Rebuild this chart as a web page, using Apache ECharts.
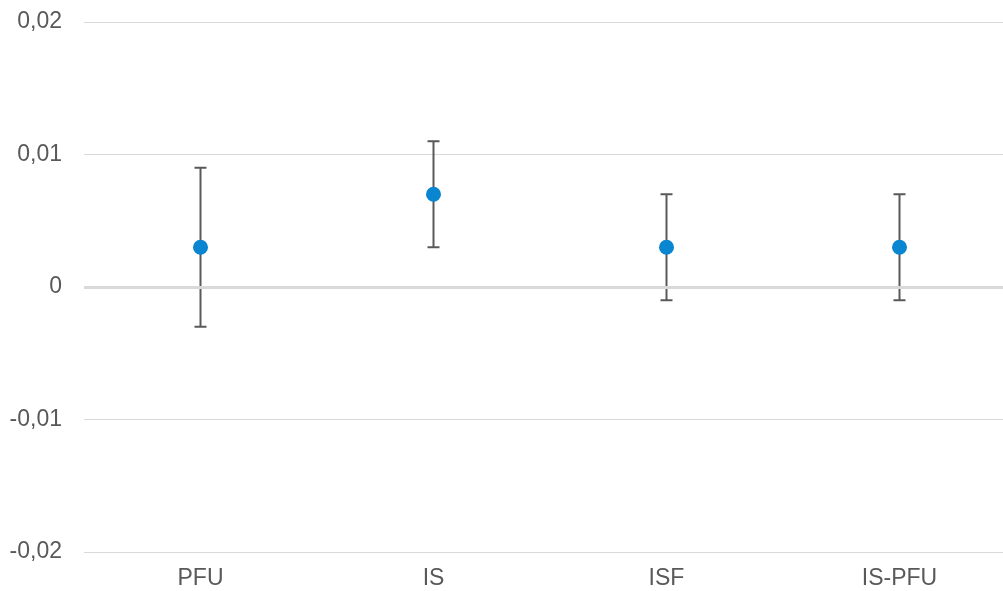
<!DOCTYPE html>
<html>
<head>
<meta charset="utf-8">
<script src="https://cdn.jsdelivr.net/npm/echarts@6/dist/echarts.min.js"></script>
<style>html,body{margin:0;padding:0;background:#fff;overflow:hidden;width:1003px;height:591px;}#c{width:1016px;height:591px;}</style>
</head>
<body>
<div id="c"></div>
<script>
const categories = ['PFU', 'IS', 'ISF', 'IS-PFU'];
const means = [0.003, 0.007, 0.003, 0.003];
const lows = [-0.003, 0.003, -0.001, -0.001];
const highs = [0.009, 0.011, 0.007, 0.007];
const yTicks = [-0.02, -0.01, 0, 0.01, 0.02];

const chart = echarts.init(document.getElementById('c'), null, {renderer: 'canvas'});
const font = '"Liberation Sans", Arial, sans-serif';
const errData = categories.map((c, i) => [i, lows[i], highs[i]]);

chart.setOption({
  animation: false,
  backgroundColor: '#ffffff',
  grid: {left: 84, right: 0, top: 22, bottom: 39, containLabel: false},
  xAxis: {
    type: 'category',
    data: categories,
    boundaryGap: true,
    axisLine: {show: false},
    axisTick: {show: false},
    axisLabel: {color: '#595959', fontSize: 23, fontFamily: font, margin: 15}
  },
  yAxis: {
    type: 'value',
    min: yTicks[0],
    max: yTicks[yTicks.length - 1],
    interval: 0.01,
    axisLine: {show: false},
    axisTick: {show: false},
    splitLine: {lineStyle: {color: '#d9d9d9', width: 1}},
    axisLabel: {
      color: '#595959', fontSize: 23, fontFamily: font, margin: 22,
      formatter: v => String(Math.round(v * 100) / 100).replace('.', ',')
    }
  },
  series: [
    {
      type: 'custom',
      data: errData,
      z: 2,
      renderItem: function (params, api) {
        const x = api.value(0);
        const lo = api.coord([x, api.value(1)]);
        const hi = api.coord([x, api.value(2)]);
        const hw = 6;
        const st = {stroke: '#595959', lineWidth: 2};
        return {
          type: 'group',
          children: [
            {type: 'line', shape: {x1: lo[0], y1: lo[1], x2: hi[0], y2: hi[1]}, style: st},
            {type: 'line', shape: {x1: lo[0] - hw, y1: lo[1], x2: lo[0] + hw, y2: lo[1]}, style: st},
            {type: 'line', shape: {x1: hi[0] - hw, y1: hi[1], x2: hi[0] + hw, y2: hi[1]}, style: st}
          ]
        };
      }
    },
    {
      type: 'scatter',
      data: means,
      symbol: 'circle',
      symbolSize: 15,
      z: 3,
      itemStyle: {color: '#0a86d0', opacity: 1},
      markLine: {
        silent: true,
        symbol: ['none', 'none'],
        label: {show: false},
        lineStyle: {color: '#d9d9d9', width: 3, type: 'solid'},
        data: [{yAxis: 0}]
      }
    }
  ]
});
</script>
</body>
</html>
